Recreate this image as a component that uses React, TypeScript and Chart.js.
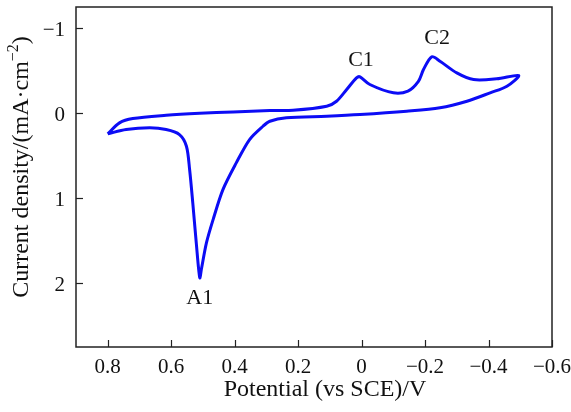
import React, { useEffect, useRef } from 'react';
import { Chart, registerables } from 'chart.js';

Chart.register(...registerables);

// Cyclic voltammogram: forward (cathodic) scan then reverse (anodic) scan
const potential = [
  0.800, 0.763, 0.721, 0.616, 0.510, 0.405, 0.289, 0.216, 0.110, 0.079, 0.047, 0.016, 0.005,
  -0.026, -0.100, -0.146, -0.179, -0.195, -0.221, -0.247, -0.300, -0.353, -0.426, -0.495,
  -0.458, -0.405, -0.332, -0.247, -0.142, 0.005, 0.110, 0.237, 0.289, 0.311, 0.353, 0.395,
  0.437, 0.468, 0.489, 0.505, 0.510, 0.521, 0.532, 0.542, 0.552, 0.574, 0.616, 0.668, 0.742, 0.800,
];
const currentDensity = [
  0.242, 0.113, 0.062, 0.024, 0.000, -0.016, -0.032, -0.035, -0.082, -0.141, -0.279, -0.416, -0.428,
  -0.338, -0.240, -0.261, -0.376, -0.514, -0.664, -0.612, -0.475, -0.396, -0.405, -0.444,
  -0.318, -0.240, -0.141, -0.064, -0.024, 0.015, 0.035, 0.054, 0.094, 0.153, 0.309, 0.584,
  0.898, 1.251, 1.525, 1.839, 1.936, 1.525, 1.054, 0.662, 0.388, 0.251, 0.192, 0.172, 0.192, 0.242,
];

const xTicks = [0.8, 0.6, 0.4, 0.2, 0, -0.2, -0.4, -0.6];
const yTicks = [-1, 0, 1, 2];

const peakLabels = ['C1', 'C2', 'A1'];
const peakLabelX = [0.002, -0.238, 0.51];
const peakLabelY = [-0.62, -0.88, 2.18];

const SERIF = '"Liberation Serif", "Times New Roman", serif';

const fmt = (v: number) => (v < 0 ? '\u2212' + String(Math.abs(v)) : String(v));

const framePlugin = {
  id: 'frame',
  afterDraw(chart: any) {
    const { ctx, chartArea, scales } = chart;
    const { left, right, top, bottom } = chartArea;
    const x = scales.x;
    const y = scales.y;
    ctx.save();
    ctx.strokeStyle = '#222';
    ctx.lineWidth = 1.5;
    ctx.strokeRect(left, top, right - left, bottom - top);
    ctx.lineWidth = 1.2;
    ctx.fillStyle = '#111';

    // x ticks (inward) and labels
    ctx.font = '21px ' + SERIF;
    ctx.textAlign = 'center';
    ctx.textBaseline = 'alphabetic';
    xTicks.forEach((v) => {
      const px = Math.round(x.getPixelForValue(v)) + 0.5;
      ctx.beginPath();
      ctx.moveTo(px, bottom);
      ctx.lineTo(px, bottom - 7);
      ctx.stroke();
      ctx.fillText(fmt(v), x.getPixelForValue(v), bottom + 26);
    });
    // y ticks (inward) and labels
    ctx.textAlign = 'right';
    yTicks.forEach((v) => {
      const py = Math.round(y.getPixelForValue(v)) + 0.5;
      ctx.beginPath();
      ctx.moveTo(left, py);
      ctx.lineTo(left + 7, py);
      ctx.stroke();
      ctx.fillText(fmt(v), left - 11, y.getPixelForValue(v) + 7.5);
    });

    ctx.textAlign = 'center';
    ctx.textBaseline = 'middle';
    ctx.font = '22px ' + SERIF;
    peakLabels.forEach((t, i) => {
      ctx.fillText(t, x.getPixelForValue(peakLabelX[i]), y.getPixelForValue(peakLabelY[i]));
    });

    ctx.font = '24px ' + SERIF;
    ctx.fillText('Potential (vs SCE)/V', 325, 390);

    // y title with superscript
    const main = 'Current density/(mA\u00B7cm';
    const sup = '\u22122';
    const close = ')';
    ctx.font = '24px ' + SERIF;
    const w1 = ctx.measureText(main).width;
    const w3 = ctx.measureText(close).width;
    ctx.font = '16px ' + SERIF;
    const w2 = ctx.measureText(sup).width;
    const total = w1 + w2 + w3;
    ctx.translate(22, 167);
    ctx.rotate(-Math.PI / 2);
    ctx.textAlign = 'left';
    ctx.font = '24px ' + SERIF;
    let cx = -total / 2;
    ctx.fillText(main, cx, 0);
    cx += w1;
    ctx.font = '16px ' + SERIF;
    ctx.fillText(sup, cx, -8);
    cx += w2;
    ctx.font = '24px ' + SERIF;
    ctx.fillText(close, cx, 0);
    ctx.restore();
  },
};

export default function App() {
  const ref = useRef<HTMLCanvasElement | null>(null);
  useEffect(() => {
    document.body.style.margin = '0';
    const canvas = ref.current;
    if (!canvas) return;
    const points = potential.map((p, i) => ({ x: p, y: currentDensity[i] }));
    const chart = new Chart(canvas, {
      type: 'scatter',
      data: {
        datasets: [
          {
            data: points,
            showLine: true,
            borderColor: 'rgb(12,12,245)',
            borderWidth: 3,
            pointRadius: 0,
            tension: 0.3,
            fill: false,
          },
        ],
      },
      options: {
        responsive: false,
        animation: false,
        layout: { padding: { top: 7, right: 19, left: 0, bottom: 0 } },
        plugins: { legend: { display: false }, tooltip: { enabled: false } },
        scales: {
          x: {
            type: 'linear',
            min: -0.6,
            max: 0.9,
            reverse: true,
            grid: { display: false, drawTicks: false },
            border: { display: false },
            afterBuildTicks: (s: any) => {
              s.ticks = xTicks.map((v) => ({ value: v }));
            },
            afterFit: (s: any) => {
              s.height = 65;
            },
            ticks: { display: false },
          },
          y: {
            type: 'linear',
            min: -1.25,
            max: 2.75,
            reverse: true,
            grid: { display: false, drawTicks: false },
            border: { display: false },
            afterBuildTicks: (s: any) => {
              s.ticks = yTicks.map((v) => ({ value: v }));
            },
            afterFit: (s: any) => {
              s.width = 76;
            },
            ticks: { display: false },
          },
        },
      },
      plugins: [framePlugin],
    });
    return () => chart.destroy();
  }, []);
  return <canvas ref={ref} width={571} height={412} style={{ display: 'block' }} />;
}
